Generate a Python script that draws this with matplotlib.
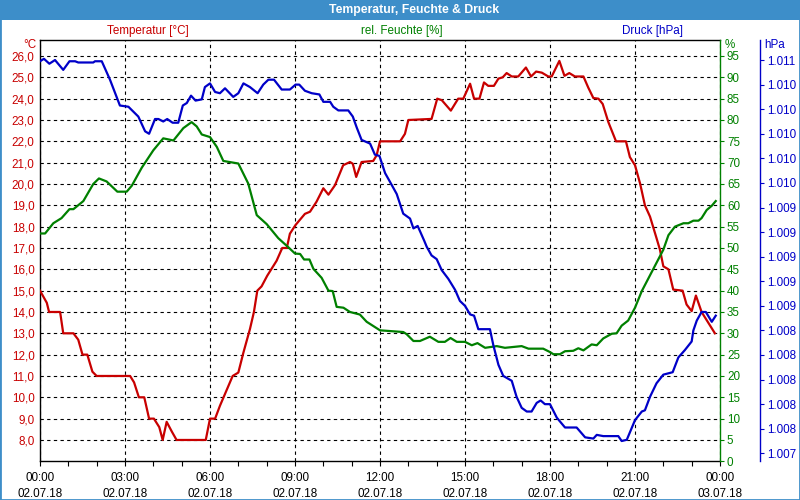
# -*- coding: utf-8 -*-
"""
    Temperatur, Feuchte & Druck  -  Tagesverlauf 02.07.18
"""
#======================================
#           modules
#======================================
import numpy as np
import matplotlib
matplotlib.use('Agg')
import matplotlib.pyplot as plt
from matplotlib.patches import Rectangle

#======================================
#           data  (hours since 00:00)
#======================================
temp_t = [0, 0.24, 0.32, 0.71, 0.82, 1.18, 1.35, 1.5, 1.67, 1.85, 2.0, 3.18, 3.32, 3.49,
          3.68, 3.85, 4.02, 4.21, 4.33, 4.47, 4.65, 4.82, 5.85, 6.0, 6.18, 6.35, 6.8, 7.0,
          7.18, 7.41, 7.55, 7.67, 7.82, 8.02, 8.35, 8.55, 8.71, 8.82, 9.02, 9.35, 9.53,
          9.76, 10.0, 10.18, 10.41, 10.7, 10.94, 11.04, 11.16, 11.35, 11.76, 11.88, 12.0,
          12.71, 12.88, 13.0, 13.82, 14.02, 14.18, 14.5, 14.76, 14.94, 15.18, 15.32, 15.51,
          15.67, 15.82, 16.02, 16.18, 16.33, 16.47, 16.65, 16.88, 17.15, 17.33, 17.51,
          17.71, 17.94, 18.06, 18.33, 18.51, 18.68, 18.88, 19.18, 19.35, 19.53, 19.71,
          19.86, 20.06, 20.33, 20.68, 20.82, 21.0, 21.18, 21.35, 21.53, 21.76, 21.88, 22.0,
          22.18, 22.35, 22.68, 22.82, 23.0, 23.15, 23.35, 23.82]
temp_v = [15.0, 14.43, 14.0, 14.0, 13.0, 13.0, 12.7, 12.0, 12.0, 11.2, 11.0, 11.0, 10.7, 10.0,
          10.0, 9.0, 9.0, 8.6, 8.0, 8.85, 8.4, 8.0, 8.0, 9.0, 9.0, 9.6, 11.0, 11.16,
          12.1, 13.2, 14.0, 15.0, 15.2, 15.7, 16.4, 17.0, 17.0, 17.67, 18.08, 18.6, 18.7,
          19.17, 19.8, 19.5, 19.94, 20.88, 21.03, 20.95, 20.33, 21.03, 21.08, 21.34, 22.0,
          22.0, 22.35, 23.0, 23.05, 24.0, 23.93, 23.44, 24.0, 24.0, 24.7, 24.0, 24.0,
          24.76, 24.6, 24.6, 24.94, 25.0, 25.2, 25.04, 25.04, 25.46, 25.04, 25.27,
          25.22, 25.04, 25.04, 25.77, 25.07, 25.2, 25.04, 25.04, 24.52, 24.03, 24.0,
          23.75, 22.9, 22.0, 22.0, 21.26, 20.88, 20.02, 19.0, 18.47, 17.46, 16.92, 16.14,
          16.0, 15.05, 15.0, 14.35, 14.04, 14.77, 14.0, 13.0]

hum_t = [0, 0.18, 0.47, 0.76, 1.04, 1.18, 1.53, 1.88, 2.08, 2.35, 2.73, 3.06, 3.24, 3.59,
         4.0, 4.35, 4.71, 5.06, 5.35, 5.53, 5.71, 6.0, 6.24, 6.47, 7.0, 7.35, 7.65, 8.0,
         8.41, 8.76, 9.0, 9.18, 9.32, 9.51, 9.65, 9.94, 10.18, 10.33, 10.47, 10.71, 10.94,
         11.29, 11.53, 12.0, 12.82, 12.94, 13.18, 13.41, 13.76, 14.06, 14.29, 14.49, 14.71,
         15.0, 15.24, 15.44, 15.71, 16.12, 16.41, 17.0, 17.24, 17.76, 18.0, 18.12, 18.35,
         18.53, 18.82, 19.0, 19.18, 19.47, 19.65, 19.88, 20.18, 20.35, 20.53, 20.76, 21.0,
         21.24, 21.53, 21.82, 22.0, 22.18, 22.41, 22.71, 22.88, 23.06, 23.24, 23.35, 23.53,
         23.71, 23.85]
hum_v = [53.4, 53.4, 55.8, 57.0, 59.1, 59.1, 61.0, 65.0, 66.3, 65.6, 63.2, 63.2, 64.6, 68.8,
         72.9, 75.7, 75.2, 78.1, 79.5, 78.5, 76.6, 76.0, 73.7, 70.4, 69.8, 65.1, 57.7, 55.6,
         52.3, 50.2, 48.7, 48.6, 47.3, 47.3, 45.1, 43.0, 40.0, 39.9, 36.2, 36.0, 35.0,
         34.4, 32.7, 30.7, 30.3, 29.8, 28.2, 28.2, 29.2, 28.0, 28.0, 28.9, 28.0,
         28.0, 27.2, 27.7, 26.6, 27.0, 26.6, 27.0, 26.4, 26.4, 25.6, 25.1, 25.1,
         25.8, 25.9, 26.5, 26.0, 27.4, 27.2, 28.8, 29.9, 30.0, 31.8, 33.0, 36.0,
         39.9, 43.6, 47.3, 49.6, 53.0, 55.0, 55.8, 55.8, 56.4, 56.4, 57.0, 58.9,
         59.9, 61.0]

pres_t = [0, 0.14, 0.33, 0.53, 0.82, 1.04, 1.24, 1.35, 1.88, 1.94, 2.18, 2.47, 2.82, 3.12,
          3.47, 3.71, 3.85, 4.06, 4.18, 4.35, 4.49, 4.68, 4.88, 5.04, 5.18, 5.33, 5.49,
          5.71, 5.82, 6.0, 6.18, 6.35, 6.53, 6.82, 7.0, 7.18, 7.41, 7.68, 7.88, 8.06, 8.26,
          8.53, 8.82, 9.02, 9.15, 9.35, 9.59, 9.86, 10.0, 10.24, 10.35, 10.53, 10.88, 11.04,
          11.18, 11.35, 11.65, 11.82, 11.98, 12.18, 12.35, 12.59, 12.82, 13.06, 13.18,
          13.33, 13.56, 13.65, 13.82, 14.0, 14.18, 14.41, 14.65, 14.82, 15.0, 15.18, 15.32,
          15.47, 15.88, 16.0, 16.18, 16.35, 16.65, 16.82, 17.0, 17.18, 17.35, 17.53, 17.67,
          17.82, 18.0, 18.24, 18.53, 18.94, 19.24, 19.53, 19.65, 19.88, 20.41, 20.53, 20.71,
          21.0, 21.24, 21.35, 21.53, 21.76, 22.0, 22.33, 22.53, 22.76, 23.0, 23.06, 23.18,
          23.35, 23.5, 23.71, 23.85]
pres_v = [1010.59, 1010.61, 1010.57, 1010.60, 1010.52, 1010.59, 1010.59, 1010.58, 1010.58,
          1010.59, 1010.59, 1010.44, 1010.23, 1010.22, 1010.14, 1010.02, 1010.00, 1010.12,
          1010.12, 1010.10, 1010.12, 1010.09, 1010.09, 1010.23, 1010.25, 1010.31, 1010.27,
          1010.28, 1010.38, 1010.41, 1010.34, 1010.33, 1010.37, 1010.30, 1010.33, 1010.41,
          1010.38, 1010.33, 1010.40, 1010.44, 1010.44, 1010.36, 1010.36, 1010.40, 1010.40,
          1010.35, 1010.33, 1010.32, 1010.26, 1010.26, 1010.22, 1010.19, 1010.19, 1010.14,
          1010.05, 1009.95, 1009.92, 1009.83, 1009.82, 1009.68, 1009.61, 1009.51, 1009.35,
          1009.31, 1009.23, 1009.25, 1009.13, 1009.08, 1009.01, 1008.98, 1008.89, 1008.82,
          1008.73, 1008.64, 1008.60, 1008.53, 1008.52, 1008.41, 1008.41, 1008.28, 1008.12,
          1008.03, 1007.99, 1007.86, 1007.77, 1007.74, 1007.74, 1007.81, 1007.83, 1007.80,
          1007.80, 1007.69, 1007.61, 1007.61, 1007.53, 1007.52, 1007.55, 1007.54, 1007.54,
          1007.50, 1007.51, 1007.67, 1007.74, 1007.75, 1007.86, 1007.97, 1008.04, 1008.06,
          1008.18, 1008.24, 1008.31, 1008.40, 1008.48, 1008.55, 1008.55, 1008.47, 1008.52]

x_ticks  = [0, 3, 6, 9, 12, 15, 18, 21, 24]
x_labels = ['00:00\n02.07.18', '03:00\n02.07.18', '06:00\n02.07.18', '09:00\n02.07.18',
            '12:00\n02.07.18', '15:00\n02.07.18', '18:00\n02.07.18', '21:00\n02.07.18',
            '00:00\n03.07.18']
temp_ticks = list(range(8, 27))
hum_ticks  = list(range(0, 100, 5))
pres_ticks = [1007.4, 1007.6, 1007.8, 1008.0, 1008.2, 1008.4, 1008.6, 1008.8, 1009.0,
              1009.2, 1009.4, 1009.6, 1009.8, 1010.0, 1010.2, 1010.4, 1010.6]

#======================================
#           style
#======================================
c_red   = '#c80000'
c_green = '#008000'
c_blue  = '#0000c8'
c_bar   = '#3d8ec9'
f_size  = 8.4
plt.rcParams['font.family'] = ['Liberation Sans', 'DejaVu Sans']

#======================================
#           plot
#======================================
fig = plt.figure(figsize=(8, 5), dpi=100)
fig.patch.set_facecolor('white')

# window title bar + frame
fig.add_artist(Rectangle((0, 0.96), 1, 0.04, transform=fig.transFigure,
                         facecolor=c_bar, edgecolor='none', zorder=0))
fig.add_artist(Rectangle((0, 0), 1, 1, transform=fig.transFigure, fill=False,
                         edgecolor=c_bar, lw=2, zorder=5))
fig.text(0.517, 0.98, 'Temperatur, Feuchte & Druck', color='white', fontsize=8.8,
         fontweight='bold', ha='center', va='center')

ax = fig.add_axes([0.05, 0.0774, 0.85, 0.8426])
ax_h = ax.twinx()
ax_p = ax.twinx()

#------------temperature---------------
ax.plot(temp_t, temp_v, color=c_red, lw=1.6, zorder=3)
ax.set_xlim(0, 24)
ax.set_ylim(7, 26.75)
ax.set_xticks(x_ticks)
ax.set_xticklabels(x_labels, fontsize=f_size, linespacing=1.45)
ax.set_xticks(np.arange(0, 25, 1), minor=True)
ax.tick_params(axis='x', which='both', direction='out', length=3.5, width=0.8, pad=4)
ax.set_yticks(temp_ticks)
ax.yaxis.set_major_formatter(plt.FuncFormatter(lambda v, p: ('%.1f' % v).replace('.', ',')))
ax.tick_params(axis='y', length=0, pad=4, labelcolor=c_red, labelsize=f_size)
ax.grid(True, which='major', color='black', ls=(0, (3, 3)), lw=0.8)
ax.spines['right'].set_visible(False)
for s in ['left', 'top', 'bottom']:
    ax.spines[s].set_linewidth(1.0)

#------------humidity------------------
ax_h.plot(hum_t, hum_v, color=c_green, lw=1.6, zorder=3)
ax_h.set_ylim(0, 98.75)
ax_h.set_yticks(hum_ticks)
ax_h.tick_params(axis='y', length=3, width=0.8, pad=2, color=c_green,
                 labelcolor=c_green, labelsize=f_size)
for s in ['left', 'top', 'bottom']:
    ax_h.spines[s].set_visible(False)
ax_h.spines['right'].set_color(c_green)
ax_h.spines['right'].set_linewidth(1.0)

#------------pressure------------------
ax_p.plot(pres_t, pres_v, color=c_blue, lw=1.6, zorder=3)
ax_p.set_ylim(1007.335, 1010.763)
ax_p.set_yticks(pres_ticks)
ax_p.yaxis.set_major_formatter(plt.FuncFormatter(lambda v, p: '%.3f' % (v / 1000.)))
ax_p.tick_params(axis='y', length=3, width=0.8, pad=2, color=c_blue,
                 labelcolor=c_blue, labelsize=f_size)
for s in ['left', 'top', 'bottom']:
    ax_p.spines[s].set_visible(False)
ax_p.spines['right'].set_position(('outward', 28.8))   # 40 px
ax_p.spines['right'].set_color(c_blue)
ax_p.spines['right'].set_linewidth(1.0)

#------------axis captions-------------
fig.text(148/800., 1 - 31/500., 'Temperatur [°C]', color=c_red, fontsize=f_size,
         ha='center', va='center')
fig.text(402/800., 1 - 31/500., 'rel. Feuchte [%]', color=c_green, fontsize=f_size,
         ha='center', va='center')
fig.text(652/800., 1 - 31/500., 'Druck [hPa]', color=c_blue, fontsize=f_size,
         ha='center', va='center')
fig.text(36/800., 1 - 45/500., '°C', color=c_red, fontsize=f_size, ha='right', va='center')
fig.text(725/800., 1 - 45/500., '%', color=c_green, fontsize=f_size, ha='left', va='center')
fig.text(764/800., 1 - 45/500., 'hPa', color=c_blue, fontsize=f_size, ha='left', va='center')

plt.savefig('out.png', dpi=100)
